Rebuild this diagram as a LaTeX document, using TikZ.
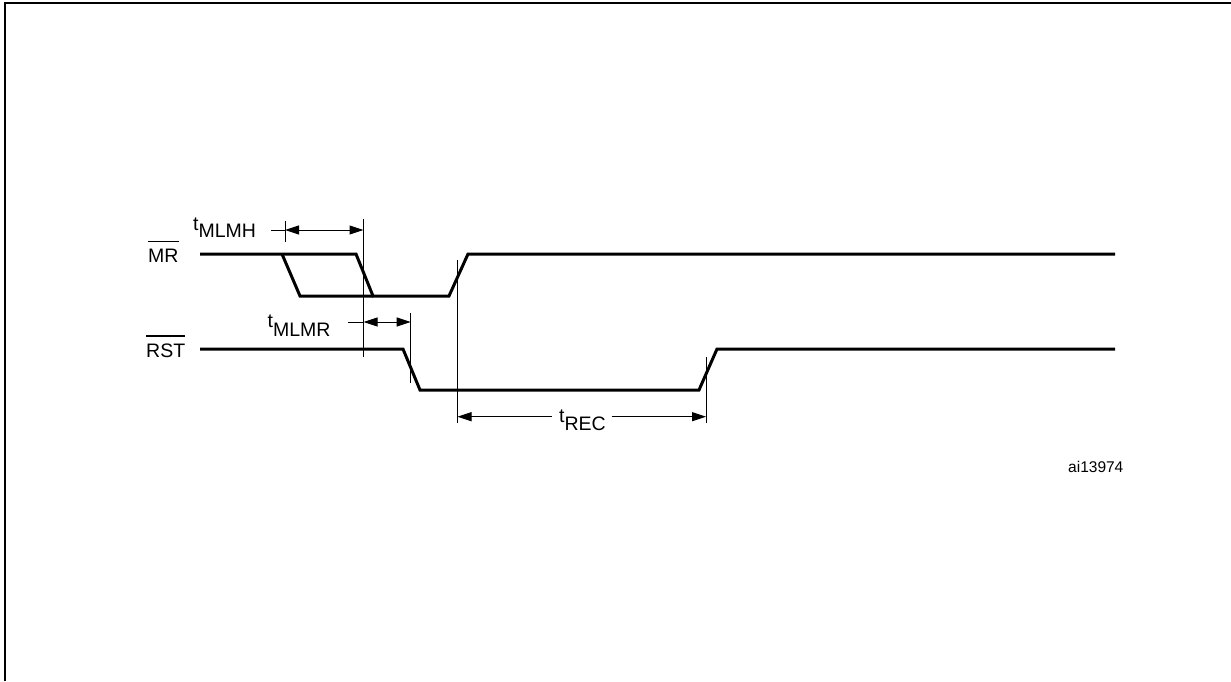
\documentclass[tikz,border=0pt]{standalone}
\usepackage{fontspec}
\setmainfont{Liberation Sans}
\usetikzlibrary{arrows.meta}
\begin{document}
\begin{tikzpicture}[x=1pt,y=-1pt,
  sig/.style={line width=3pt,line join=miter},
  thin/.style={line width=1pt},
  dim/.style={line width=1pt,-{Triangle[length=14pt,width=9pt]}},
  ddim/.style={line width=1pt,{Triangle[length=14pt,width=9pt]}-{Triangle[length=14pt,width=9pt]}},
  lbl/.style={inner sep=0pt,font=\fontsize{19.5}{19.5}\selectfont},
  small/.style={inner sep=0pt,font=\fontsize{15.5}{15.5}\selectfont},
  ovl/.style={line width=1.5pt}]
\useasboundingbox (0,0) rectangle (1231,681);
% frame
\draw[line width=2pt] (5,681) -- (5,3) -- (1231,3);

% MR signal coordinates
\coordinate (m0) at (200,254);
\coordinate (mf1a) at (282,254);
\coordinate (mf1b) at (300,296);
\coordinate (mf2a) at (356,254);
\coordinate (mf2b) at (373,296);
\coordinate (mr1) at (449,296);
\coordinate (mr2) at (468,254);
\coordinate (mend) at (1115,254);
\draw[sig] (m0) -- (mf2a) -- (mf2b) -- (mr1) -- (mr2) -- (mend);
\draw[sig] (mf1a) -- (mf1b) -- (mf2b);

% RST signal coordinates
\coordinate (r0) at (200,349);
\coordinate (rf1) at (403,349);
\coordinate (rf2) at (420,390);
\coordinate (rr1) at (699,390);
\coordinate (rr2) at (717,349);
\coordinate (rend) at (1115,349);
\draw[sig] (r0) -- (rf1) -- (rf2) -- (rr1) -- (rr2) -- (rend);

% signal labels
\node[lbl,anchor=base west] (mrl) at (148,262) {MR};
\draw[ovl] ([yshift=7pt]mrl.north west) -- ([yshift=7pt]mrl.north east);
\node[lbl,anchor=base west] (rstl) at (146,357) {RST};
\draw[ovl] ([yshift=7pt]rstl.north west) -- ([yshift=7pt]rstl.north east);

% reference verticals
\coordinate (v1t) at (363.5,219);
\coordinate (v1b) at (363.5,357);
\coordinate (v2t) at (457.5,260);
\coordinate (v2b) at (457.5,423);
\coordinate (v3t) at (410.7,313);
\coordinate (v3b) at (410.7,383);
\coordinate (v4t) at (706,357);
\coordinate (v4b) at (706,423);
\coordinate (tkt) at (285,221);
\coordinate (tkb) at (285,242);
\draw[thin] (v1t) -- (v1b);
\draw[thin] (v2t) -- (v2b);
\draw[thin] (v3t) -- (v3b);
\draw[thin] (v4t) -- (v4b);
\draw[thin] (tkt) -- (tkb);

% tMLMH
\coordinate (a1s) at (271,230);
\coordinate (a1l) at (285,230);
\coordinate (a1r) at (363.5,230);
\draw[thin] (a1s) -- (a1l);
\draw[ddim] (a1l) -- (a1r);
\node[lbl,anchor=base west] (tmlmh) at (193,230) {t\raisebox{-7pt}{MLMH}};

% tMLMR
\coordinate (a2s) at (348,322);
\coordinate (a2l) at (363.5,322);
\coordinate (a2r) at (410.7,322);
\draw[thin] (a2s) -- (a2l);
\draw[ddim] (a2l) -- (a2r);
\node[lbl,anchor=base west] (tmlmr) at (267.5,327) {t\raisebox{-9pt}{MLMR}};

% tREC
\coordinate (a3l) at (457.5,416.7);
\coordinate (a3g1) at (551.7,416.7);
\coordinate (a3g2) at (611.7,416.7);
\coordinate (a3r) at (706,416.7);
\draw[dim] (a3g1) -- (a3l);
\draw[dim] (a3g2) -- (a3r);
\node[lbl,anchor=base west] (trec) at (559,422) {t\raisebox{-8pt}{REC}};

% figure id
\node[small,anchor=base west] (aid) at (1068,472) {ai13974};
\end{tikzpicture}
\end{document}
